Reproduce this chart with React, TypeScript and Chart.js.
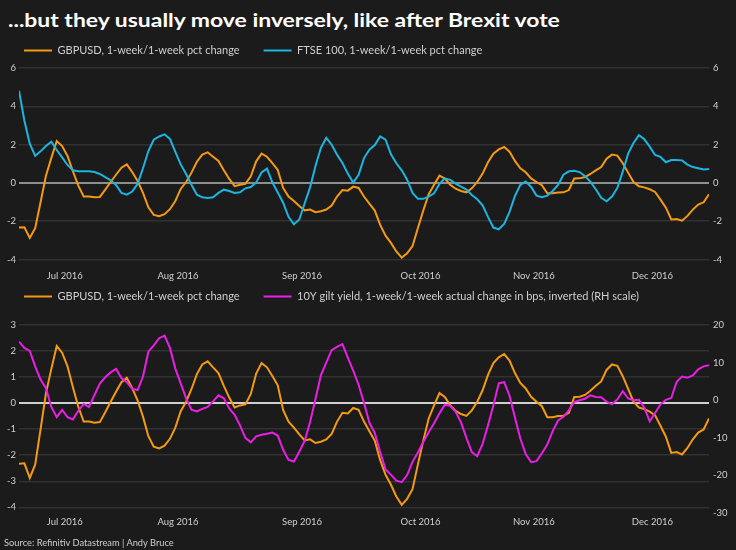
import React, { useEffect, useRef } from "react";
import { Chart, registerables } from "chart.js";

Chart.register(...registerables);

// ---------- data ----------
const START_DATE = "2016-06-20";
const N_DAYS = 129; // business days, 20 Jun - 15 Dec 2016

const gbpusd = [
  -2.33, -2.31, -2.87, -2.36, -1.01, 0.38, 1.31, 2.19, 1.93, 1.41,
  0.61, -0.14, -0.71, -0.71, -0.75, -0.73, -0.35, 0.05, 0.43, 0.8,
  0.97, 0.57, 0.1, -0.52, -1.27, -1.67, -1.74, -1.63, -1.37, -0.94,
  -0.31, 0.05, 0.54, 1.11, 1.48, 1.6, 1.37, 1.15, 0.66, 0.21,
  -0.17, -0.09, -0.05, 0.35, 1.13, 1.53, 1.37, 1.04, 0.68, -0.26,
  -0.71, -0.94, -1.2, -1.43, -1.39, -1.53, -1.48, -1.39, -1.18, -0.71,
  -0.37, -0.4, -0.19, -0.26, -0.71, -1.08, -1.44, -2.19, -2.75, -3.13,
  -3.58, -3.9, -3.67, -3.3, -2.35, -1.44, -0.59, -0.09, 0.38, 0.23,
  -0.09, -0.3, -0.42, -0.49, -0.28, 0.05, 0.49, 1.08, 1.53, 1.75,
  1.88, 1.63, 1.15, 0.77, 0.56, 0.24, 0.05, -0.12, -0.54, -0.54,
  -0.5, -0.49, -0.37, 0.23, 0.24, 0.31, 0.47, 0.66, 0.83, 1.27,
  1.48, 1.43, 1.03, 0.54, 0.05, -0.17, -0.23, -0.33, -0.47, -0.87,
  -1.29, -1.91, -1.88, -1.97, -1.72, -1.39, -1.13, -1.01, -0.59,
];

const ftse100 = [
  4.82, 3.25, 2.05, 1.41, 1.65, 1.93, 2.16, 1.72, 1.34, 0.94,
  0.66, 0.61, 0.61, 0.61, 0.57, 0.47, 0.3, 0.14, -0.1, -0.52,
  -0.61, -0.45, -0.05, 0.77, 1.67, 2.26, 2.43, 2.54, 2.3, 1.62,
  0.97, 0.47, -0.09, -0.61, -0.75, -0.78, -0.75, -0.52, -0.35, -0.42,
  -0.52, -0.49, -0.28, -0.21, 0.03, 0.55, 0.75, 0.03, -0.5, -1.03,
  -1.77, -2.16, -1.91, -1.06, -0.23, 0.89, 1.83, 2.36, 2.0, 1.48,
  1.04, 0.5, 0.02, 0.43, 1.3, 1.74, 1.98, 2.43, 2.26, 1.5,
  1.03, 0.66, 0.17, -0.52, -0.82, -0.83, -0.71, -0.54, -0.05, 0.24,
  0.16, -0.03, -0.19, -0.35, -0.63, -0.85, -1.17, -1.77, -2.33, -2.42,
  -2.14, -1.51, -0.68, -0.1, 0.07, -0.21, -0.66, -0.75, -0.66, -0.42,
  -0.1, 0.43, 0.61, 0.64, 0.57, 0.35, 0.07, -0.33, -0.78, -0.96,
  -0.71, -0.26, 0.59, 1.53, 2.09, 2.5, 2.28, 1.9, 1.46, 1.36,
  1.08, 1.2, 1.2, 1.18, 0.96, 0.83, 0.77, 0.7, 0.73,
];

const giltInverted = [
  15.6, 13.9, 13.1, 9.0, 5.5, 3.2, -1.8, -4.5, -2.6, -4.5,
  -5.1, -2.8, -1.0, -1.8, 1.4, 4.4, 6.1, 7.4, 8.3, 5.9,
  4.8, 3.0, 2.7, 6.3, 12.9, 14.6, 16.5, 17.2, 13.9, 8.4,
  4.5, 0.5, -2.5, -3.0, -2.3, -1.8, -0.3, 1.3, 0.5, -2.2,
  -3.9, -6.7, -10.0, -11.2, -9.6, -9.2, -8.9, -8.6, -9.4, -13.2,
  -15.9, -16.3, -13.7, -10.8, -5.8, 0.3, 6.6, 10.0, 13.3, 14.2,
  14.9, 11.3, 7.9, 4.1, -0.7, -6.0, -8.7, -13.8, -18.4, -19.8,
  -21.4, -21.8, -19.9, -16.4, -13.9, -11.1, -8.5, -6.1, -3.5, -1.2,
  -1.5, -3.1, -5.9, -10.0, -13.8, -14.9, -11.6, -6.7, -1.4, 4.5,
  4.8, 1.2, -4.6, -10.2, -14.3, -16.5, -16.2, -14.1, -11.8, -8.2,
  -5.4, -4.4, -2.7, -0.5, 0.0, 0.4, 1.3, 0.85, 0.8, -0.4,
  -1.1, 0.2, 2.4, 0.5, 0.0, 0.1, -2.0, -5.6, -3.4, -1.1,
  0.1, 0.6, 4.9, 6.3, 6.0, 6.6, 8.2, 9.0, 9.3,
];

const topTicks = [-4, -2, 0, 2, 4, 6];
const bottomLeftTicks = [-4, -3, -2, -1, 0, 1, 2, 3];
const bottomRightTicks = [-30, -20, -10, 0, 10, 20];
const monthNames = ["Jan", "Feb", "Mar", "Apr", "May", "Jun", "Jul", "Aug", "Sep", "Oct", "Nov", "Dec"];

const TITLE = "...but they usually move inversely, like after Brexit vote";
const SOURCE = "Source: Refinitiv Datastream | Andy Bruce";
const LABEL_GBP = "GBPUSD, 1-week/1-week pct change";
const LABEL_FTSE = "FTSE 100, 1-week/1-week pct change";
const LABEL_GILT = "10Y gilt yield, 1-week/1-week actual change in bps, inverted (RH scale)";

// ---------- styles ----------
const BG = "#1b1b1b";
const GRID = "#313131";
const TEXT = "#cfcfcf";
const ORANGE = "#f39a12";
const CYAN = "#1cb4e0";
const MAGENTA = "#ea1ee6";
const FONT = "Lato, 'Noto Sans', sans-serif";

function businessDays(start: string, n: number): Date[] {
  const out: Date[] = [];
  const d = new Date(start + "T12:00:00");
  while (out.length < n) {
    const wd = d.getDay();
    if (wd !== 0 && wd !== 6) out.push(new Date(d.getTime()));
    d.setDate(d.getDate() + 1);
  }
  return out;
}

const dates = businessDays(START_DATE, N_DAYS);
const monthTicks: { value: number; label: string }[] = [];
dates.forEach((d, i) => {
  if (i > 0 && d.getMonth() !== dates[i - 1].getMonth()) {
    monthTicks.push({ value: i - 0.5, label: monthNames[d.getMonth()] + " " + d.getFullYear() });
  }
});

const toPoints = (vals: number[]) => vals.map((v, i) => ({ x: i, y: v }));

function legendOpts() {
  return {
    position: "top" as const,
    align: "start" as const,
    labels: {
      boxWidth: 28,
      boxHeight: 2,
      padding: 24,
      color: TEXT,
      font: { family: FONT, size: 11 },
      sort: (a: any, b: any) => a.datasetIndex - b.datasetIndex,
      generateLabels: (chart: any) =>
        (Chart.defaults.plugins.legend.labels as any)
          .generateLabels(chart)
          .map((l: any) => ({ ...l, fillStyle: l.strokeStyle, lineWidth: 0 })),
    },
  };
}

function xScale(height: number, pad: number) {
  return {
    type: "linear" as const,
    min: 0,
    max: N_DAYS - 1,
    grid: { display: false, drawTicks: false },
    border: { display: false },
    afterBuildTicks: (s: any) => {
      s.ticks = monthTicks.map((t) => ({ value: t.value }));
    },
    afterFit: (s: any) => {
      s.height = height;
    },
    ticks: {
      autoSkip: false,
      maxRotation: 0,
      padding: pad,
      color: TEXT,
      font: { family: FONT, size: 9.5 },
      callback: (v: any) => {
        const t = monthTicks.find((m) => Math.abs(m.value - v) < 1e-6);
        return t ? t.label : "";
      },
    },
  };
}

function yScale(position: "left" | "right", min: number, max: number, ticks: number[], grid: boolean, zeroColor: string) {
  return {
    type: "linear" as const,
    position,
    min,
    max,
    border: { display: false },
    afterBuildTicks: (s: any) => {
      s.ticks = ticks.map((v) => ({ value: v }));
    },
    afterFit: (s: any) => {
      s.width = position === "left" ? 19 : 27;
    },
    grid: grid
      ? {
          drawTicks: false,
          color: (c: any) => (c.tick && c.tick.value === 0 ? zeroColor : GRID),
          lineWidth: (c: any) => (c.tick && c.tick.value === 0 ? 2 : 1.5),
        }
      : { display: false, drawTicks: false },
    ticks: {
      padding: position === "left" ? 3 : 4,
      color: TEXT,
      font: { family: FONT, size: 9.5 },
    },
  };
}

function lineDs(label: string, vals: number[], color: string, axis: string, order: number) {
  return {
    label,
    data: toPoints(vals),
    borderColor: color,
    backgroundColor: color,
    borderWidth: 2,
    pointRadius: 0,
    tension: 0,
    yAxisID: axis,
    order,
  };
}

function topConfig(): any {
  return {
    type: "line",
    data: {
      datasets: [lineDs(LABEL_GBP, gbpusd, ORANGE, "y", 1), lineDs(LABEL_FTSE, ftse100, CYAN, "y", 0)],
    },
    options: {
      animation: false,
      responsive: false,
      maintainAspectRatio: false,
      layout: { padding: 0 },
      plugins: { legend: legendOpts(), tooltip: { enabled: false }, title: { display: false } },
      scales: {
        x: xScale(18, 3),
        y: yScale("left", -4.39, 6.11, topTicks, true, "#8e8e8e"),
        y1: yScale("right", -4.39, 6.11, topTicks, false, ""),
      },
    },
  };
}

function bottomConfig(): any {
  return {
    type: "line",
    data: {
      datasets: [lineDs(LABEL_GBP, gbpusd, ORANGE, "y", 1), lineDs(LABEL_GILT, giltInverted, MAGENTA, "y1", 0)],
    },
    options: {
      animation: false,
      responsive: false,
      maintainAspectRatio: false,
      layout: { padding: 0 },
      plugins: { legend: legendOpts(), tooltip: { enabled: false }, title: { display: false } },
      scales: {
        x: xScale(20, 1),
        y: yScale("left", -4.29, 3.49, bottomLeftTicks, true, "#cfcfcf"),
        y1: yScale("right", -30.53, 23.46, bottomRightTicks, false, ""),
      },
    },
  };
}

function ChartBox({ top, height, make }: { top: number; height: number; make: () => any }) {
  const ref = useRef<HTMLCanvasElement | null>(null);
  useEffect(() => {
    if (!ref.current) return;
    const chart = new Chart(ref.current, make());
    return () => chart.destroy();
  }, []);
  return (
    <canvas
      ref={ref}
      width={736}
      height={height}
      style={{ position: "absolute", left: 0, top, width: 736, height }}
    />
  );
}

function fitScale(text: string, font: string, target: number) {
  try {
    const ctx = document.createElement("canvas").getContext("2d");
    if (!ctx) return 1;
    ctx.font = font;
    const w = ctx.measureText(text).width;
    return w > 0 ? target / w : 1;
  } catch (e) {
    return 1;
  }
}

export default function App() {
  useEffect(() => {
    document.body.style.margin = "0";
    document.body.style.background = BG;
  }, []);
  const titleScale = fitScale(TITLE, "bold 18px Lato", 554);
  return (
    <div style={{ position: "absolute", left: 0, top: 0, width: 736, height: 550, background: BG, overflow: "hidden" }}>
      <div
        style={{
          position: "absolute",
          left: 8,
          top: 11,
          fontFamily: FONT,
          fontWeight: 700,
          fontSize: 18,
          lineHeight: "19px",
          color: "#ffffff",
          whiteSpace: "nowrap",
          transform: `scaleX(${titleScale})`,
          transformOrigin: "left top",
        }}
      >
        {TITLE}
      </div>
      <ChartBox top={21} height={264} make={topConfig} />
      <ChartBox top={267} height={268} make={bottomConfig} />
      <div
        style={{
          position: "absolute",
          left: 4,
          top: 536,
          fontFamily: FONT,
          fontSize: 9.3,
          lineHeight: "13px",
          color: TEXT,
          whiteSpace: "nowrap",
        }}
      >
        {SOURCE}
      </div>
    </div>
  );
}
